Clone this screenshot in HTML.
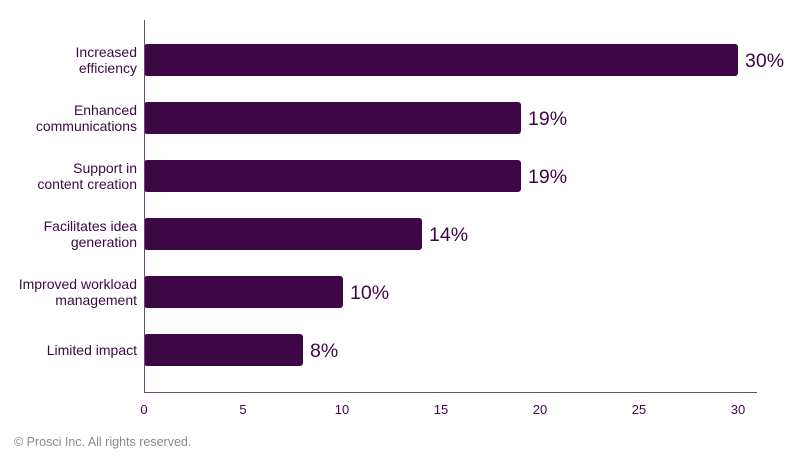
<!DOCTYPE html>
<html><head><style>
body{margin:0;background:#fff;width:800px;height:462px;overflow:hidden}
svg text{font-family:"Liberation Sans",sans-serif}
</style></head><body>
<svg width="800" height="462" xmlns="http://www.w3.org/2000/svg">
<g fill="#3d0745">
<rect x="144" y="44" width="594" height="32" rx="3"/>
<rect x="144" y="102" width="377" height="32" rx="3"/>
<rect x="144" y="160" width="377" height="32" rx="3"/>
<rect x="144" y="218" width="278" height="32" rx="3"/>
<rect x="144" y="276" width="199" height="32" rx="3"/>
<rect x="144" y="334" width="159" height="32" rx="3"/>
</g>
<line x1="144.5" y1="20" x2="144.5" y2="392" stroke="#6b4a70" stroke-width="1"/>
<line x1="144" y1="392.5" x2="757" y2="392.5" stroke="#6b4a70" stroke-width="1"/>
<g fill="#3d0745" font-size="19.5">
<text x="745" y="67">30%</text>
<text x="528" y="125">19%</text>
<text x="528" y="183">19%</text>
<text x="429" y="241">14%</text>
<text x="350" y="299">10%</text>
<text x="310" y="357">8%</text>
</g>
<g fill="#3d0745" font-size="14" text-anchor="end">
<text x="137" y="57">Increased</text><text x="137" y="73">efficiency</text>
<text x="137" y="115">Enhanced</text><text x="137" y="131">communications</text>
<text x="137" y="173">Support in</text><text x="137" y="189">content creation</text>
<text x="137" y="231">Facilitates idea</text><text x="137" y="247">generation</text>
<text x="137" y="289">Improved workload</text><text x="137" y="305">management</text>
<text x="137" y="355">Limited impact</text>
</g>
<g fill="#3d0745" font-size="13" text-anchor="middle">
<text x="144" y="414">0</text><text x="243" y="414">5</text><text x="342" y="414">10</text>
<text x="441" y="414">15</text><text x="540" y="414">20</text><text x="639" y="414">25</text><text x="738" y="414">30</text>
</g>
<text x="14" y="446" fill="#8a8a8a" font-size="12.5">© Prosci Inc. All rights reserved.</text>
</svg>
</body></html>
